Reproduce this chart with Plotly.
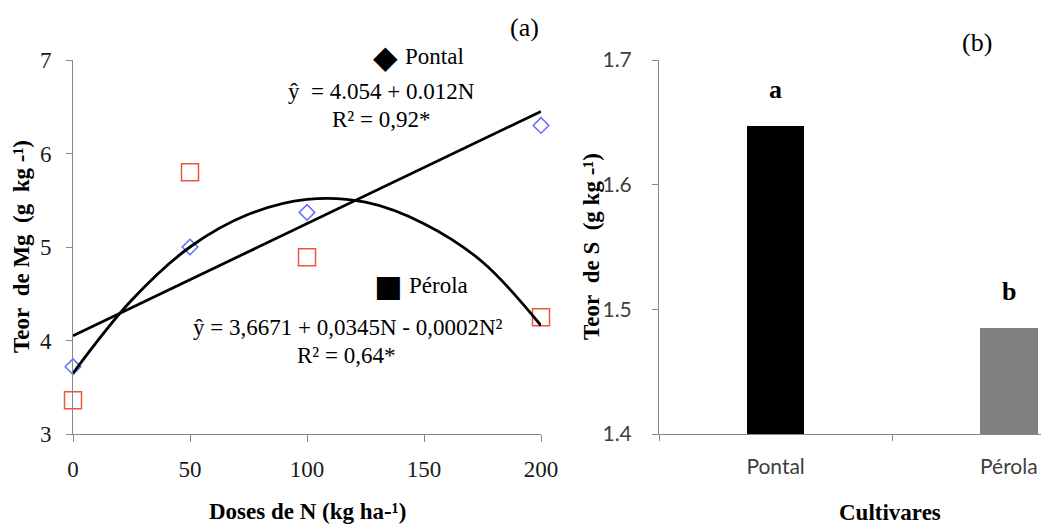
import plotly.graph_objects as go

W, H = 1041, 526

# ---------------- data ----------------
doses = [0, 50, 100, 200]
pontal_mg = [3.72, 5.00, 5.37, 6.30]
perola_mg = [3.36, 5.80, 4.89, 4.25]

lin_x = [0, 200]
lin_y = [4.05, 6.45]

quad_x = [0, 25, 50, 75, 100, 125, 150, 175, 200]
quad_y = [3.65, 4.43, 5.00, 5.35, 5.51, 5.48, 5.25, 4.84, 4.16]

cultivares = ["Pontal", "Pérola"]
teor_s = [1.647, 1.485]
bar_colors = ["#000000", "#808080"]
bar_letters = ["a", "b"]

x_ticks = [0, 50, 100, 150, 200]
y_ticks_mg = [3, 4, 5, 6, 7]
y_ticks_s = [1.4, 1.5, 1.6, 1.7]

SERIF = "Liberation Serif"
SANS = "Lato"
AX = "#888888"


def px(x):
    return x / W


def py(y):
    return 1 - y / H


fig = go.Figure()

fig.add_trace(go.Scatter(x=doses, y=pontal_mg, mode="markers", cliponaxis=False,
                         marker=dict(symbol="diamond-open", size=12,
                                     line=dict(color="#A3BFE3", width=1.5)),
                         showlegend=False, xaxis="x", yaxis="y"))
fig.add_trace(go.Scatter(x=doses, y=perola_mg, mode="markers", cliponaxis=False,
                         marker=dict(symbol="square-open", size=17,
                                     line=dict(color="#CF5A57", width=1.5)),
                         showlegend=False, xaxis="x", yaxis="y"))
fig.add_trace(go.Scatter(x=lin_x, y=lin_y, mode="lines", cliponaxis=False,
                         line=dict(color="black", width=2.8),
                         showlegend=False, xaxis="x", yaxis="y"))
fig.add_trace(go.Scatter(x=quad_x, y=quad_y, mode="lines", cliponaxis=False,
                         line=dict(color="black", width=2.8, shape="spline", smoothing=1.0),
                         showlegend=False, xaxis="x", yaxis="y"))

fig.add_trace(go.Bar(x=cultivares, y=teor_s, marker=dict(color=bar_colors, line=dict(width=0)),
                     width=0.247, showlegend=False, xaxis="x2", yaxis="y2"))

ydom = [py(434), py(60)]

common = dict(showline=True, linecolor=AX, linewidth=1, ticks="outside", tickcolor=AX,
              showgrid=False, zeroline=False, automargin=False)

fig.update_layout(
    width=W, height=H,
    margin=dict(l=0, r=0, t=0, b=0, autoexpand=False),
    paper_bgcolor="white", plot_bgcolor="white",
    xaxis=dict(domain=[px(73), px(541)], range=[0, 200], tickvals=x_ticks,
               ticklen=7, ticklabelstandoff=7,
               tickfont=dict(family=SERIF, size=23, color="#1a1a1a"), anchor="y", **common),
    yaxis=dict(domain=ydom, range=[3, 7], tickvals=y_ticks_mg,
               ticklen=6, ticklabelstandoff=10,
               tickfont=dict(family=SERIF, size=23, color="#1a1a1a"), anchor="x", **common),
    xaxis2=dict(domain=[px(659), 1.0], range=[-0.5, 1.138], type="category",
                tickson="boundaries", ticklen=6, ticklabelstandoff=14,
                tickfont=dict(family=SANS, size=21, color="#404040"), anchor="y2", **common),
    yaxis2=dict(domain=ydom, range=[1.4, 1.7], tickvals=y_ticks_s, tickformat=".1f",
                ticklen=6, ticklabelstandoff=16,
                tickfont=dict(family=SANS, size=21, color="#404040"), anchor="x2", **common),
    bargap=0,
)

ann = []


def text(x, y, s, size=23, family=SERIF, bold=False, xanchor="center", angle=0, color="black"):
    if bold:
        s = "<b>" + s + "</b>"
    ann.append(dict(x=px(x), y=py(y), xref="paper", yref="paper", text=s, showarrow=False,
                    xanchor=xanchor, yanchor="middle", textangle=angle,
                    font=dict(family=family, size=size, color=color)))


NB = "\u00a0"
# panel (a)
text(524, 27, "(a)", size=26)
text(386, 57, "◆", size=32, family="DejaVu Sans")
text(403, 57, "Pontal", size=23, xanchor="left")
text(381, 92, "ŷ" + NB + NB + "= 4.054 + 0.012N", size=23)
text(381, 119, "R² = 0,92*", size=23)
text(388, 285, "■", size=30, family="DejaVu Sans")
text(407, 285, "Pérola", size=23, xanchor="left")
text(348, 327, "ŷ = 3,6671 + 0,0345N - 0,0002N²", size=23)
text(346, 355, "R² = 0,64*", size=23)
text(22, 247, "Teor" + NB + NB + "de Mg" + NB + NB + "(g" + NB + NB + "kg -¹)", size=23, bold=True, angle=-90)
text(307, 511, "Doses de N (kg ha-¹)", size=23, bold=True)

# panel (b)
text(977, 43, "(b)", size=26)
for c, v, l in zip(cultivares, teor_s, bar_letters):
    ann.append(dict(x=c, y=v, xref="x2", yref="y2", text="<b>" + l + "</b>", showarrow=False,
                    yanchor="bottom", yshift=20,
                    font=dict(family=SERIF, size=26, color="black")))
text(592, 247, "Teor" + NB + NB + "de S" + NB + NB + "(g kg -¹)", size=23, bold=True, angle=-90)
text(890, 512, "Cultivares", size=23, bold=True)

fig.update_layout(annotations=ann)

fig.write_html("out.html")
